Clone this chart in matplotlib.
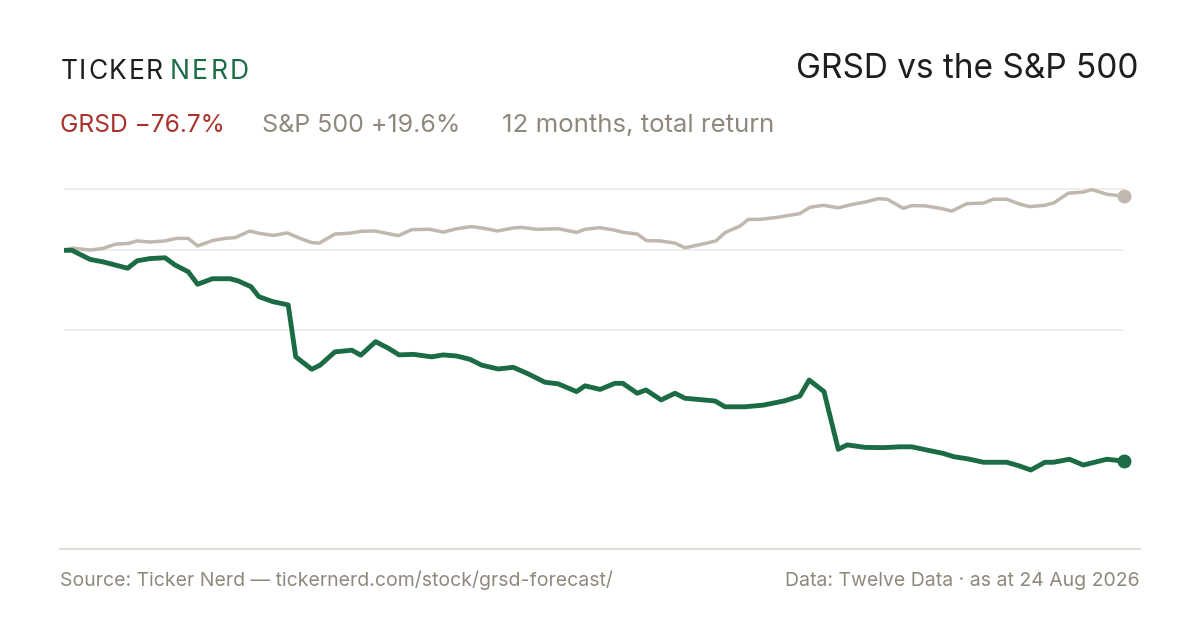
import matplotlib
matplotlib.use('Agg')
import matplotlib.pyplot as plt
from matplotlib.lines import Line2D

plt.rcParams['font.family'] = ['Inter', 'DejaVu Sans']

# DATA (days since start, total return in %)
grsd_days = [0, 2.7, 9.0, 13.5, 21.9, 25.2, 29.6, 34.8, 38.2, 42.8, 46.0, 51.1, 57.2, 60.0,
             64.4, 67.1, 71.9, 77.2, 79.8, 85.3, 88.2, 93.3, 99.1, 102.2, 107.3, 111.7,
             115.4, 120.3, 126.6, 130.6, 135.2, 139.8, 143.8, 149.5, 154.7, 159.9, 165.6,
             170.2, 176.5, 179.4, 184.6, 189.7, 192.4, 197.4, 200.4, 205.6, 210.4, 213.8,
             224.2, 227.6, 234.5, 240.8, 248.3, 253.4, 256.6, 261.7, 266.6, 269.7, 275.8,
             282.1, 287.9, 291.9, 298.2, 302.8, 306.5, 311.4, 316.6, 324.6, 328.6, 332.9,
             337.8, 340.7, 346.2, 351.0, 359.1, 365]
grsd_ret = [0.0, 0.0, -3.3, -4.2, -6.5, -3.8, -3.0, -2.7, -5.3, -7.8, -12.3, -10.3, -10.3, -11.1,
            -13.2, -16.8, -18.6, -19.8, -38.6, -43.1, -41.6, -36.8, -36.2, -38.0, -33.1, -35.5,
            -37.9, -37.7, -38.6, -37.9, -38.3, -39.5, -41.6, -43.0, -42.4, -44.8, -47.8,
            -48.4, -51.2, -49.1, -50.4, -48.2, -48.2, -51.8, -50.6, -54.2, -51.8, -53.6,
            -54.6, -56.7, -56.7, -56.1, -54.5, -52.8, -47.0, -51.2, -72.1, -70.5, -71.4,
            -71.5, -71.2, -71.2, -72.6, -73.6, -74.8, -75.6, -76.8, -76.8, -78.0, -79.6,
            -76.8, -76.8, -75.7, -77.8, -75.7, -76.4]

spx_days = [0, 3.0, 9.0, 13.5, 17.6, 22.1, 25.2, 29.6, 34.8, 38.6, 42.8, 46.0, 51.4, 55.4,
            58.9, 64.0, 66.9, 72.1, 76.9, 81.3, 85.3, 87.9, 93.3, 98.5, 102.5, 107.1, 115.1,
            119.8, 126.0, 130.6, 135.2, 140.4, 144.4, 149.3, 154.7, 157.6, 162.8, 170.2,
            176.5, 179.4, 184.3, 189.1, 192.6, 197.4, 200.6, 205.2, 210.4, 213.8, 219.6,
            224.5, 227.6, 232.8, 235.6, 239.7, 246.0, 253.4, 256.9, 261.5, 266.6, 271.8,
            276.4, 280.4, 283.5, 289.0, 291.9, 296.5, 302.2, 305.7, 310.9, 316.6, 320.0,
            324.6, 329.2, 332.6, 337.8, 340.9, 345.8, 351.0, 353.9, 359.1, 365]
spx_ret = [0.0, 0.8, 0.1, 0.7, 2.2, 2.5, 3.4, 3.0, 3.4, 4.3, 4.3, 1.6, 3.6, 4.3,
           4.6, 7.0, 6.2, 5.4, 6.3, 4.3, 2.8, 2.6, 5.9, 6.2, 6.9, 7.0, 5.3,
           7.5, 7.6, 6.6, 7.8, 8.6, 8.0, 7.0, 8.1, 8.3, 7.6, 7.8,
           6.5, 7.6, 8.2, 7.4, 6.5, 5.9, 3.5, 3.4, 2.6, 0.9, 2.2,
           3.4, 6.4, 8.8, 11.2, 11.2, 12.0, 13.3, 15.6, 16.3, 15.4, 16.7,
           17.6, 18.7, 18.5, 15.2, 16.2, 16.1, 15.1, 14.2, 16.9, 17.1, 18.5,
           18.5, 16.7, 15.8, 16.3, 17.2, 20.7, 21.1, 22.0, 20.3, 19.6]

grid_vals = [22.1, 0, -28.9]

GREEN = '#1b6b45'
SPX = '#bfb8ac'
RED = '#a8322b'
MUTED = '#8e897c'
DARK = '#1e1e1e'

W, H = 1200, 630
fig = plt.figure(figsize=(12, 6.3), dpi=100)
fig.patch.set_facecolor('white')

# axes placed in pixel terms
top_px, bot_px = 180, 540
ax = fig.add_axes([64 / W, 1 - bot_px / H, 1060 / W, (bot_px - top_px) / H])
scale = 2.76  # px per %
ax.set_ylim((250.3 - bot_px) / scale, (250.3 - top_px) / scale)
ax.set_xlim(0, 365)
ax.axis('off')

for g in grid_vals:
    ax.axhline(g, color='#eeebe6', lw=1.2, zorder=1)

ax.plot(spx_days, spx_ret, color=SPX, lw=2.5, solid_joinstyle='round', zorder=3)
ax.plot(spx_days[-1], spx_ret[-1], 'o', color=SPX, ms=9, zorder=4, clip_on=False)
ax.plot(grsd_days, grsd_ret, color=GREEN, lw=3.5, solid_joinstyle='round', zorder=5)
ax.plot(grsd_days[-1], grsd_ret[-1], 'o', color=GREEN, ms=9, zorder=6, clip_on=False)

# separator
fig.add_artist(Line2D([60 / W, 1140 / W], [1 - 548.5 / H] * 2, color='#deddd4', lw=1.5))


def px(x, y):
    return x / W, 1 - y / H


def tracked(word, x0, x1, y, size, color):
    # draw a word with letter spacing so it runs from x0 to x1
    r = fig.canvas.get_renderer()
    texts, widths = [], []
    for ch in word:
        t = fig.text(0, 0, ch, fontsize=size, color=color, va='baseline')
        widths.append(t.get_window_extent(r).width)
        texts.append(t)
    gap = (x1 - x0 - sum(widths)) / (len(word) - 1)
    x = x0
    for t, w in zip(texts, widths):
        t.set_position(px(x, y))
        x += w + gap


tracked('TICKER', 60.5, 162.7, 79.3, 19, DARK)
tracked('NERD', 169.5, 249, 79.3, 19, GREEN)

fig.text(*px(1138, 77.7), 'GRSD vs the S&P 500', fontsize=24, color=DARK,
         ha='right', va='baseline')

fig.text(*px(60, 132.3), 'GRSD \u221276.7%', fontsize=17.7, color=RED, va='baseline')
fig.text(*px(262.5, 132.3), 'S&P 500 +19.6%', fontsize=18, color=MUTED, va='baseline')
fig.text(*px(502, 132.3), '12 months, total return', fontsize=18.6, color=MUTED, va='baseline')

fig.text(*px(60, 586), 'Source: Ticker Nerd \u2014 tickernerd.com/stock/grsd-forecast/',
         fontsize=14, color=MUTED, va='baseline')
fig.text(*px(1140, 586), 'Data: Twelve Data \u00b7 as at 24 Aug 2026',
         fontsize=14, color=MUTED, ha='right', va='baseline')

fig.savefig('out.png', dpi=100, facecolor='white')
plt.close()
